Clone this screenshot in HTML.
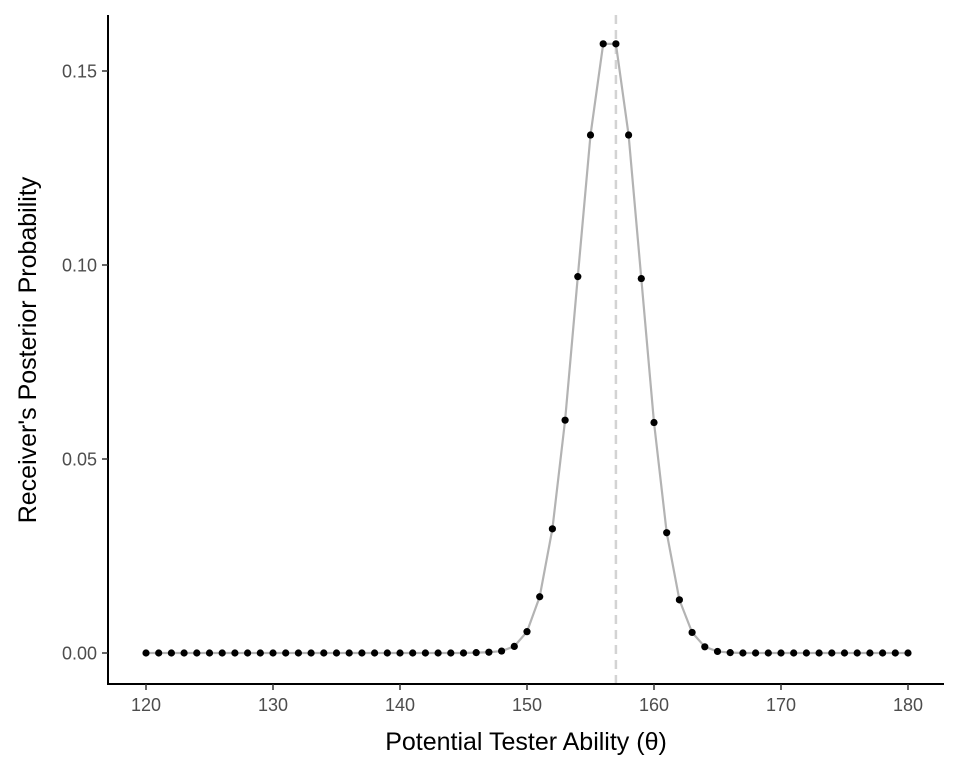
<!DOCTYPE html>
<html><head><meta charset="utf-8"><style>
body{margin:0;background:#fff;}
svg{display:block;font-family:"Liberation Sans",sans-serif;}
</style></head><body>
<svg id="chart" width="960" height="768">
<g id="plot"></g>
</svg>
<script>
const thetas = [];
for (let t = 120; t <= 180; t++) thetas.push(t);
const probs = [0,0,0,0,0,0,0,0,0,0, 0,0,0,0,0,0,0,0,0,0, 0,0,0,0,0,0,0.0001,0.0002,0.0005,0.0017,
0.0055,0.0145,0.032,0.060,0.097,0.1335,0.157,0.157,0.1335,0.0965,
0.0594,0.031,0.0137,0.0053,0.0016,0.0004,0.0001,0,0,0, 0,0,0,0,0,0,0,0,0,0,0];
const xTicks = [120,130,140,150,160,170,180];
const yTicks = [0,0.05,0.10,0.15];
const yTickLabels = ["0.00","0.05","0.10","0.15"];
const markerTheta = 157;

const X = v => 146 + (v-120)*(908-146)/60;
const Y = v => 653 - v*(653-71)/0.15;
const NS = "http://www.w3.org/2000/svg";
const g = document.getElementById('plot');
function mk(tag, attrs){const e=document.createElementNS(NS,tag);for(const k in attrs)e.setAttribute(k,attrs[k]);g.appendChild(e);return e;}

let ml = mk('line',{x1:X(markerTheta),x2:X(markerTheta),y1:15,y2:684,stroke:'#d3d3d3','stroke-width':2.5,'stroke-dasharray':'9,6'});



let d = thetas.map((t,i)=>(i?'L':'M')+X(t)+','+Y(probs[i])).join(' ');
let path = mk('path',{d:d,fill:'none',stroke:'#b3b3b3','stroke-width':2.2});



thetas.forEach((t,i)=>{
  const c = mk('circle',{cx:X(t),cy:Y(probs[i]),r:3.6,fill:'#000'});
  
  
});

let ax = mk('line',{x1:108,x2:108,y1:15,y2:685,stroke:'#000','stroke-width':2});


let bx = mk('line',{x1:107,x2:944,y1:684,y2:684,stroke:'#000','stroke-width':2});



xTicks.forEach(v=>{
  const tk = mk('line',{x1:X(v),x2:X(v),y1:684,y2:690,stroke:'#333','stroke-width':1.5});
  
  
  const tx = mk('text',{x:X(v),y:711,'text-anchor':'middle','font-size':18,fill:'#4d4d4d'});
  tx.textContent = v;
  
  
});
yTicks.forEach((v,i)=>{
  const tk = mk('line',{x1:102,x2:108,y1:Y(v),y2:Y(v),stroke:'#333','stroke-width':1.5});
  
  
  const tx = mk('text',{x:97,y:Y(v)+6.5,'text-anchor':'end','font-size':18,fill:'#4d4d4d'});
  tx.textContent = yTickLabels[i];
  
  
});

let xt = mk('text',{x:526,y:750,'text-anchor':'middle','font-size':25,fill:'#000'});
xt.textContent = 'Potential Tester Ability (θ)';


let yt = mk('text',{x:0,y:0,'text-anchor':'middle','font-size':25,fill:'#000',transform:'translate(36,350) rotate(-90)'});
yt.textContent = "Receiver's Posterior Probability";


</script>
</body></html>
